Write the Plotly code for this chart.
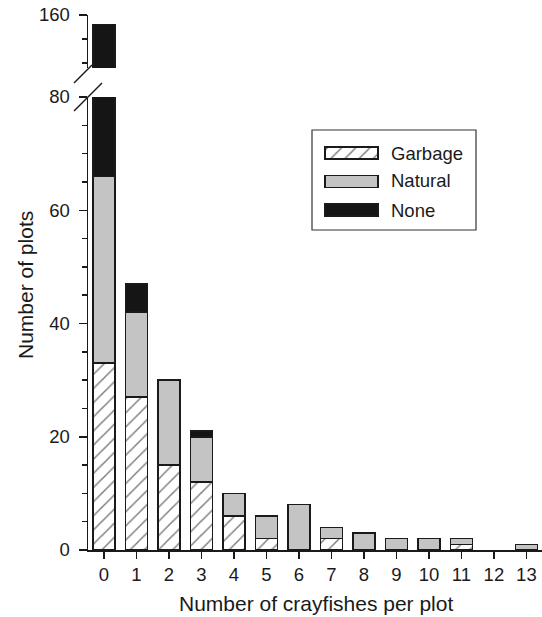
import plotly.graph_objects as go

# ---- data ----
categories = list(range(14))
tick_labels = [str(c) for c in categories]
garbage = [33, 27, 15, 12, 6, 2, 0, 2, 0, 0, 0, 1, 0, 0]
natural = [33, 15, 15, 8, 4, 4, 8, 2, 3, 2, 2, 1, 0, 1]
none_ = [90, 5, 0, 1, 0, 0, 0, 0, 0, 0, 0, 0, 0, 0]
series_names = ["Garbage", "Natural", "None"]

W, H = 542, 617
L, R, T, B = 88, 0, 15, 67
PW, PH = W - L - R, H - T - B

def px(x):
    return (x - L) / PW

def py(y):
    return (H - B - y) / PH

FONT = "Liberation Sans, Arial, sans-serif"
DARK = "#1a1a1a"
GRAY = "#c4c4c4"
BLACK = "#151515"
TICK_SIZE = 18.5
TITLE_SIZE = 21
pattern = dict(shape="/", fgcolor="#000000", bgcolor="white", size=10, solidity=0.15)

def nz(vals):
    return [v if v else None for v in vals]

fig = go.Figure()
styles = [
    dict(color="white", pattern=pattern),
    dict(color=GRAY),
    dict(color=BLACK),
]
for yax in ["y", "y2"]:
    for name, vals, st in zip(series_names, [garbage, natural, none_], styles):
        fig.add_trace(go.Bar(
            x=categories, y=nz(vals), name=name, yaxis=yax, xaxis="x",
            width=0.68, showlegend=False, hoverinfo="skip",
            marker=dict(**st, line=dict(color=DARK, width=1.5)),
        ))

# legend swatches (drawn as bars on a hidden subplot)
for i, (name, st) in enumerate(zip(series_names, styles)):
    fig.add_trace(go.Bar(
        x=[1], y=[2 - i], orientation="h", xaxis="x2", yaxis="y3",
        width=0.42, showlegend=False, hoverinfo="skip",
        marker=dict(**st, line=dict(color=DARK, width=1.2)),
    ))

axis_common = dict(showline=True, linecolor=DARK, linewidth=1.5, showgrid=False,
                   zeroline=False, ticks="outside", tickcolor=DARK, tickwidth=1.5,
                   tickfont=dict(family=FONT, size=TICK_SIZE, color="#1a1a1a"))

fig.update_layout(
    width=W, height=H,
    margin=dict(l=L, r=R, t=T, b=B),
    paper_bgcolor="white", plot_bgcolor="white",
    barmode="stack",
    showlegend=False,
    xaxis=dict(**axis_common, range=[-0.49, 13.48], tickvals=categories,
               ticktext=tick_labels, ticklen=7, anchor="y", domain=[0, 1],
               ticklabelstandoff=0),
    yaxis=dict(**axis_common, range=[0, 80], domain=[0, py(97)], anchor="x",
               tickvals=[0, 20, 40, 60, 80], ticklen=8, ticklabelstandoff=5,
               minor=dict(tickvals=[5, 10, 15, 25, 30, 35, 45, 50, 55, 65, 70, 75],
                          ticklen=5, tickcolor=DARK, tickwidth=1.5, ticks="outside")),
    yaxis2=dict(**axis_common, range=[138, 160], domain=[py(68), 1], anchor="x",
                tickvals=[160], ticklen=8, ticklabelstandoff=5,
                minor=dict(tickvals=[140, 150], ticklen=5, tickcolor=DARK,
                           tickwidth=1.5, ticks="outside")),
    xaxis2=dict(domain=[px(322.35), px(380.65)], range=[-0.05, 1.05], visible=False,
                anchor="y3", fixedrange=True),
    yaxis3=dict(domain=[py(224.25), py(138.75)], range=[-0.5, 2.5], visible=False,
                anchor="x2", fixedrange=True),
)

shapes = [
    # axis break marks
    dict(type="line", xref="paper", yref="paper", x0=px(74), y0=py(83), x1=px(92), y1=py(65),
         line=dict(color=DARK, width=1.5)),
    dict(type="line", xref="paper", yref="paper", x0=px(74), y0=py(111), x1=px(102), y1=py(83),
         line=dict(color=DARK, width=1.5)),
    # legend frame
    dict(type="rect", xref="paper", yref="paper", x0=px(312), y0=py(230), x1=px(476), y1=py(130),
         line=dict(color="#333333", width=1.2), fillcolor="rgba(0,0,0,0)"),
]
fig.update_layout(shapes=shapes)

annotations = [
    dict(text="Number of plots", xref="paper", yref="paper", x=px(25), y=py(285),
         textangle=-90, showarrow=False, font=dict(family=FONT, size=TITLE_SIZE, color="#1a1a1a"),
         xanchor="center", yanchor="middle"),
    dict(text="Number of crayfishes per plot", xref="paper", yref="paper", x=px(316), y=py(603),
         showarrow=False, font=dict(family=FONT, size=TITLE_SIZE, color="#1a1a1a"),
         xanchor="center", yanchor="middle"),
]
for name, ycen in zip(series_names, [153, 181, 210]):
    annotations.append(dict(text=name, xref="paper", yref="paper", x=px(389), y=py(ycen),
                            showarrow=False, xanchor="left", yanchor="middle",
                            font=dict(family=FONT, size=TICK_SIZE, color="#1a1a1a")))
fig.update_layout(annotations=annotations)

fig.write_html("out.html", config={"displayModeBar": False, "staticPlot": True},
               post_script="document.body.style.margin='0';document.body.style.overflow='hidden';")
